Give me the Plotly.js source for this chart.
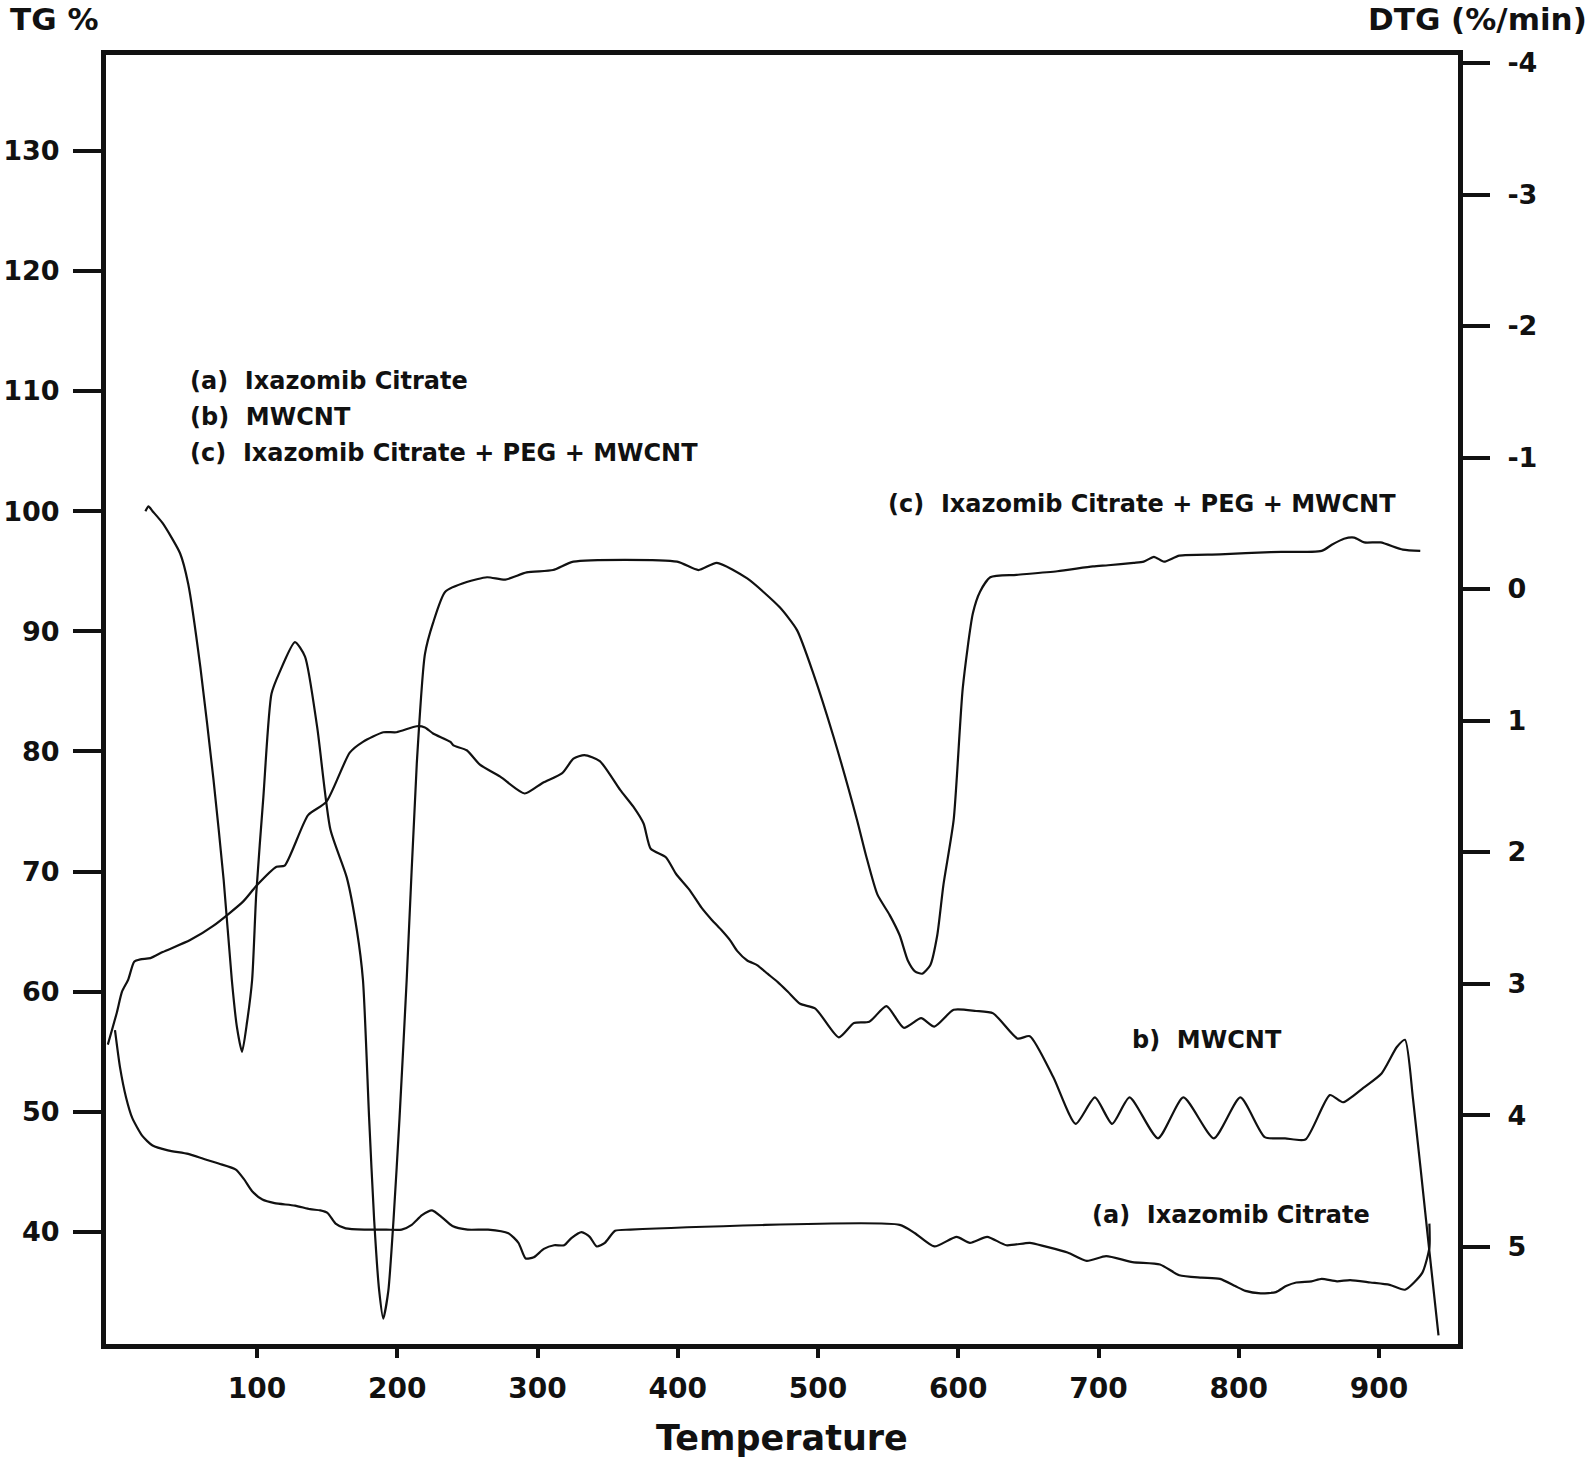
<!DOCTYPE html>
<html>
<head>
<meta charset="utf-8">
<script src="https://cdn.plot.ly/plotly-3.0.1.min.js"></script>
<style>
  html, body { margin: 0; padding: 0; background: #fff; }
  #tga { width: 1594px; height: 1458px; }
</style>
</head>
<body>
<div id="tga"></div>
<script>
// Temperature (°C) / TG (%), one pair of arrays per sample

// (a) Ixazomib Citrate
const TEMP_A = [-1.3, 2.3, 6.6, 11.0, 18.2, 25.5, 36.4, 50.9, 61.7, 72.6, 84.9, 90.7, 96.5, 103.8, 112.5,
  127.0, 137.8, 145.1, 150.2, 156.0, 163.2, 177.7, 192.2, 203.1, 210.3, 217.6, 224.8, 232.1, 239.3, 250.2,
  264.7, 279.2, 286.4, 291.5, 297.3, 304.5, 311.8, 319.0, 324.1, 331.4, 337.2, 342.2, 348.0, 355.3, 366.2,
  558.2, 569.1, 582.9, 598.8, 608.3, 620.6, 634.3, 651.0, 661.9, 677.9, 691.6, 705.4, 724.2, 743.8, 757.6,
  773.5, 786.6, 797.4, 804.7, 815.6, 826.5, 833.7, 841.0, 851.8, 859.1, 870.0, 879.4, 893.9, 907.6, 918.5,
  930.8, 935.9, 935.9];
const TG_A = [56.8, 53.7, 51.2, 49.5, 48.0, 47.2, 46.8, 46.5, 46.1, 45.7, 45.2, 44.4, 43.4, 42.7, 42.4,
  42.2, 41.9, 41.8, 41.6, 40.7, 40.3, 40.2, 40.2, 40.2, 40.6, 41.4, 41.8, 41.2, 40.5, 40.2,
  40.2, 39.9, 39.1, 37.8, 37.9, 38.6, 38.9, 38.9, 39.5, 40.0, 39.6, 38.8, 39.1, 40.1, 40.2,
  40.6, 39.9, 38.8, 39.6, 39.1, 39.6, 38.9, 39.1, 38.8, 38.3, 37.6, 38.0, 37.5, 37.3, 36.4,
  36.2, 36.1, 35.5, 35.1, 34.9, 35.0, 35.5, 35.8, 35.9, 36.1, 35.9, 36.0, 35.8, 35.6, 35.2,
  36.6, 38.7, 40.7];

// (b) MWCNT
const TEMP_B = [-6.4, 0.1, 3.7, 8.1, 12.4, 16.8, 24.0, 32.7, 52.3, 69.0, 90.0, 99.4, 113.9, 119.7, 136.4,
  149.4, 166.1, 175.5, 190.0, 199.4, 213.9, 219.7, 225.5, 237.9, 240.0, 249.5, 258.9, 273.4, 290.8, 303.8,
  317.6, 325.6, 333.5, 344.4, 358.9, 368.3, 375.6, 380.7, 391.5, 398.8, 408.2, 416.9, 424.1, 431.4, 437.2,
  442.3, 449.5, 456.8, 464.0, 471.3, 478.5, 487.2, 498.1, 514.8, 525.6, 536.5, 548.8, 561.1, 573.5, 582.9,
  596.7, 612.6, 624.9, 642.3, 651.0, 667.7, 683.7, 697.4, 709.7, 722.1, 742.4, 760.5, 782.2, 801.1, 818.5,
  833.0, 847.5, 864.9, 874.3, 888.8, 901.8, 912.7, 918.5, 924.3, 934.5, 942.4];
const TG_B = [55.6, 58.3, 60.0, 61.0, 62.5, 62.7, 62.8, 63.3, 64.3, 65.5, 67.5, 68.8, 70.4, 70.5, 74.7,
  75.8, 79.9, 80.8, 81.6, 81.6, 82.1, 82.0, 81.5, 80.8, 80.5, 80.1, 78.9, 77.9, 76.5, 77.4,
  78.2, 79.4, 79.7, 79.2, 76.8, 75.4, 74.0, 71.9, 71.2, 69.8, 68.5, 67.0, 66.0, 65.1, 64.3,
  63.4, 62.6, 62.2, 61.5, 60.8, 60.0, 59.0, 58.6, 56.2, 57.4, 57.5, 58.8, 57.0, 57.8, 57.1,
  58.5, 58.4, 58.2, 56.1, 56.3, 52.9, 49.0, 51.2, 49.0, 51.2, 47.8, 51.2, 47.8, 51.2, 47.9,
  47.8, 47.7, 51.4, 50.8, 52.0, 53.2, 55.4, 56.0, 51.0, 39.9, 31.4];

// (c) Ixazomib Citrate + PEG + MWCNT
const TEMP_C = [20.4, 22.6, 25.5, 32.7, 45.1, 50.9, 59.6, 69.0, 76.2, 82.0, 85.6, 89.3, 92.9, 96.5, 99.4,
  104.5, 110.3, 116.1, 127.0, 134.2, 142.9, 152.3, 164.0, 171.2, 175.5, 179.9, 183.5, 187.1, 190.0, 193.6,
  197.3, 201.6, 206.7, 213.9, 219.7, 225.5, 234.2, 249.5, 264.0, 277.0, 292.2, 311.1, 325.6, 399.5, 414.7,
  427.8, 449.5, 472.7, 485.0, 496.6, 511.1, 527.8, 534.3, 542.3, 551.0, 558.2, 564.0, 569.1, 574.2, 580.0,
  585.0, 589.4, 596.7, 603.2, 610.4, 615.5, 622.8, 641.6, 670.6, 696.0, 706.8, 725.0, 732.2, 739.5, 746.7,
  757.6, 786.6, 822.8, 859.1, 866.3, 875.0, 882.3, 889.5, 901.1, 917.0, 929.4];
const TG_C = [100.0, 100.4, 100.0, 99.0, 96.5, 93.96, 87.0, 77.6, 69.3, 61.0, 57.1, 55.0, 57.5, 61.0, 68.1,
  76.2, 84.8, 86.6, 89.1, 87.9, 82.0, 73.5, 69.5, 65.1, 61.0, 49.5, 41.0, 35.1, 32.8, 35.1,
  41.0, 49.5, 61.0, 79.0, 88.1, 90.7, 93.3, 94.1, 94.5, 94.3, 94.9, 95.1, 95.8, 95.8, 95.1,
  95.7, 94.4, 92.0, 90.1, 86.5, 81.2, 74.3, 71.3, 68.1, 66.4, 64.7, 62.6, 61.7, 61.5, 62.2,
  64.7, 68.9, 74.3, 85.3, 91.5, 93.3, 94.5, 94.7, 95.0, 95.4, 95.5, 95.7, 95.8, 96.2, 95.8,
  96.3, 96.4, 96.6, 96.7, 97.2, 97.7, 97.8, 97.4, 97.4, 96.8, 96.7];

// Axis ticks
const TEMP_TICKS = [100, 200, 300, 400, 500, 600, 700, 800, 900];
const TG_TICKS = [40, 50, 60, 70, 80, 90, 100, 110, 120, 130];
const DTG_TICKS = [-4, -3, -2, -1, 0, 1, 2, 3, 4, 5];
const DTG_LABELS = ['-4', '-3', '-2', '-1', '0', '1', '2', '3', '4', '5'];

const FONT = 'DejaVu Sans, Arial, sans-serif';
const INK = '#111';

const lineStyle = { color: INK, width: 2.2, shape: 'spline', smoothing: 0.6 };

const traces = [
  { name: '(a) Ixazomib Citrate', x: TEMP_A, y: TG_A, type: 'scatter', mode: 'lines', line: lineStyle },
  { name: '(b) MWCNT', x: TEMP_B, y: TG_B, type: 'scatter', mode: 'lines', line: lineStyle },
  { name: '(c) Ixazomib Citrate + PEG + MWCNT', x: TEMP_C, y: TG_C, type: 'scatter', mode: 'lines', line: lineStyle },
  // empty trace so the DTG axis on the right gets its subplot and is drawn
  { x: [], y: [], yaxis: 'y2', type: 'scatter', mode: 'lines', showlegend: false, hoverinfo: 'skip' },
];

const tickFont = { family: FONT, size: 27, color: INK, weight: 'bold' };
const labelFont = { family: FONT, size: 24, color: INK, weight: 'bold' };
const headFont = { family: FONT, size: 31, color: INK, weight: 'bold' };

function note(text, x, y, anchor, font) {
  return { text: text, xref: 'paper', yref: 'paper', x: x, y: y,
           xanchor: anchor, yanchor: 'middle', showarrow: false, font: font || labelFont };
}

const layout = {
  width: 1594,
  height: 1458,
  margin: { t: 55, r: 136, b: 114, l: 106 },
  paper_bgcolor: '#fff',
  plot_bgcolor: '#fff',
  showlegend: false,
  xaxis: {
    range: [-7.7, 956.3],
    tickvals: TEMP_TICKS,
    ticks: 'outside', ticklen: 9, tickwidth: 4, tickcolor: INK,
    showline: true, linewidth: 5, linecolor: INK, mirror: true,
    showgrid: false, zeroline: false,
    tickfont: { family: FONT, size: 28, color: INK, weight: 'bold' },
    ticklabelstandoff: 6,
    title: { text: 'Temperature', standoff: 26,
             font: { family: FONT, size: 35, color: INK, weight: 'bold' } },
  },
  yaxis: {
    range: [30.68, 137.97],
    tickvals: TG_TICKS,
    ticks: 'outside', ticklen: 28, tickwidth: 4, tickcolor: INK,
    showline: true, linewidth: 5, linecolor: INK,
    showgrid: false, zeroline: false,
    tickfont: tickFont,
    ticklabelstandoff: 8,
  },
  yaxis2: {
    overlaying: 'y', side: 'right',
    range: [5.741, -4.061],
    tickvals: DTG_TICKS, ticktext: DTG_LABELS,
    ticks: 'outside', ticklen: 27, tickwidth: 4, tickcolor: INK,
    showline: true, linewidth: 5, linecolor: INK,
    showgrid: false, zeroline: false,
    tickfont: tickFont,
    ticklabelstandoff: 12,
  },
  annotations: [
    note('TG %', -0.0725, 1.0280, 'left', headFont),
    note('DTG (%/min)', 1.0966, 1.0280, 'right', headFont),
    note('(a)\u00a0 Ixazomib Citrate', 0.0607, 0.7471, 'left'),
    note('(b)\u00a0 MWCNT', 0.0607, 0.7192, 'left'),
    note('(c)\u00a0 Ixazomib Citrate + PEG + MWCNT', 0.0607, 0.6912, 'left'),
    note('(c)\u00a0 Ixazomib Citrate + PEG + MWCNT', 0.5769, 0.6517, 'left'),
    note('b)\u00a0 MWCNT', 0.7574, 0.2358, 'left'),
    note('(a)\u00a0 Ixazomib Citrate', 0.7278, 0.1001, 'left'),
  ],
};

Plotly.newPlot('tga', traces, layout, { displayModeBar: false, responsive: false, staticPlot: true });
</script>
</body>
</html>
